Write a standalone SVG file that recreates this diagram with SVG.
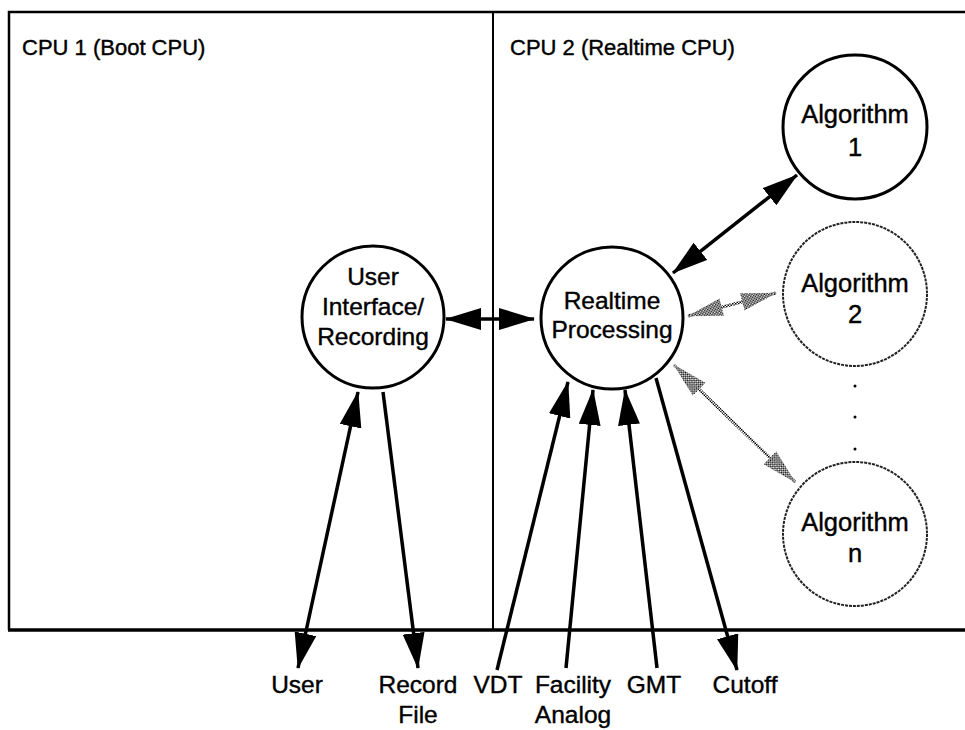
<svg xmlns="http://www.w3.org/2000/svg" width="965" height="730" viewBox="0 0 965 730">
<style>
text{font-family:"Liberation Sans",Arial,sans-serif;fill:#000;stroke:#000;stroke-width:0.4;}
.lbl{font-size:24.5px;text-anchor:middle;}
.alg{font-size:25.5px;text-anchor:middle;}
.hdr{font-size:22px;}
.frame{stroke:#000;fill:none;}
.node{fill:#fff;stroke:#000;stroke-width:3;}
.rough{fill:#fff;stroke:#222;stroke-width:2;stroke-dasharray:3 1;}
.con{stroke:#000;stroke-width:3.5;fill:none;}
.gcon{stroke:url(#stip);stroke-width:3;fill:none;}
</style>
<defs>
<pattern id="stip" width="3" height="3" patternUnits="userSpaceOnUse">
<rect width="3" height="3" fill="#fff"/>
<rect width="1.5" height="1.5" fill="#000"/>
<rect x="1.5" y="1.5" width="1.5" height="1.5" fill="#000"/>
</pattern>
<marker id="ah" markerUnits="userSpaceOnUse" markerWidth="36" markerHeight="22" refX="35" refY="11" orient="auto-start-reverse">
<path d="M0,0 L36,11 L0,22 z" fill="#000"/>
</marker>
<marker id="gh" markerUnits="userSpaceOnUse" markerWidth="36" markerHeight="20" refX="35" refY="10" orient="auto-start-reverse">
<path d="M0,1 L36,10 L0,19 z" fill="url(#stip)"/>
</marker>
</defs>
<g id="frame">
<path class="frame" stroke-width="2.5" d="M9,630 L9,12 L965,12"/>
<line class="frame" stroke-width="2" x1="493" y1="12" x2="493" y2="630"/>
<line class="frame" stroke-width="3.5" x1="8" y1="630" x2="965" y2="630"/>
<text class="hdr" x="22" y="55">CPU 1 (Boot CPU)</text>
<text class="hdr" x="510" y="55">CPU 2 (Realtime CPU)</text>
</g>
<g id="connectors">
<line class="con" x1="446" y1="319" x2="534" y2="319" marker-start="url(#ah)" marker-end="url(#ah)"/>
<line class="con" x1="673" y1="273" x2="797" y2="175" marker-start="url(#ah)" marker-end="url(#ah)"/>
<line class="gcon" x1="688" y1="316" x2="776" y2="293" marker-start="url(#gh)" marker-end="url(#gh)"/>
<line class="gcon" x1="674" y1="365" x2="795" y2="482" marker-start="url(#gh)" marker-end="url(#gh)"/>
<line class="con" x1="298" y1="668" x2="358" y2="392" marker-start="url(#ah)" marker-end="url(#ah)"/>
<line class="con" x1="383" y1="392" x2="418" y2="668" marker-end="url(#ah)"/>
<line class="con" x1="497" y1="670" x2="568" y2="382" marker-end="url(#ah)"/>
<line class="con" x1="566" y1="668" x2="593" y2="390" marker-end="url(#ah)"/>
<line class="con" x1="657" y1="668" x2="625" y2="390" marker-end="url(#ah)"/>
<line class="con" x1="656" y1="378" x2="737" y2="670" marker-end="url(#ah)"/>
</g>
<g id="ui">
<circle class="node" cx="373" cy="317" r="71"/>
<text class="lbl" x="373" y="285">User</text>
<text class="lbl" x="373" y="315">Interface/</text>
<text class="lbl" x="373" y="345">Recording</text>
</g>
<g id="rp">
<circle class="node" cx="612" cy="318" r="71"/>
<text class="lbl" x="612" y="309">Realtime</text>
<text class="lbl" x="612" y="338">Processing</text>
</g>
<g id="alg1">
<circle class="node" cx="855" cy="127" r="72"/>
<text class="alg" x="855" y="123">Algorithm</text>
<text class="alg" x="855" y="156">1</text>
</g>
<g id="alg2">
<circle class="rough" cx="855" cy="294" r="72"/>
<text class="alg" x="855" y="292">Algorithm</text>
<text class="alg" x="855" y="323">2</text>
</g>
<g id="dots">
<circle cx="855" cy="386" r="1.5" fill="#000"/>
<circle cx="855" cy="417" r="1.5" fill="#000"/>
<circle cx="855" cy="449" r="1.5" fill="#000"/>
</g>
<g id="algn">
<circle class="rough" cx="855" cy="534" r="72"/>
<text class="alg" x="855" y="531">Algorithm</text>
<text class="alg" x="855" y="562">n</text>
</g>
<g id="labels">
<text class="lbl" x="297" y="693">User</text>
<text class="lbl" x="418" y="693">Record</text>
<text class="lbl" x="418" y="723">File</text>
<text class="lbl" x="498" y="693">VDT</text>
<text class="lbl" x="573" y="693">Facility</text>
<text class="lbl" x="573" y="723">Analog</text>
<text class="lbl" x="654" y="693">GMT</text>
<text class="lbl" x="745" y="693">Cutoff</text>
</g>
</svg>
